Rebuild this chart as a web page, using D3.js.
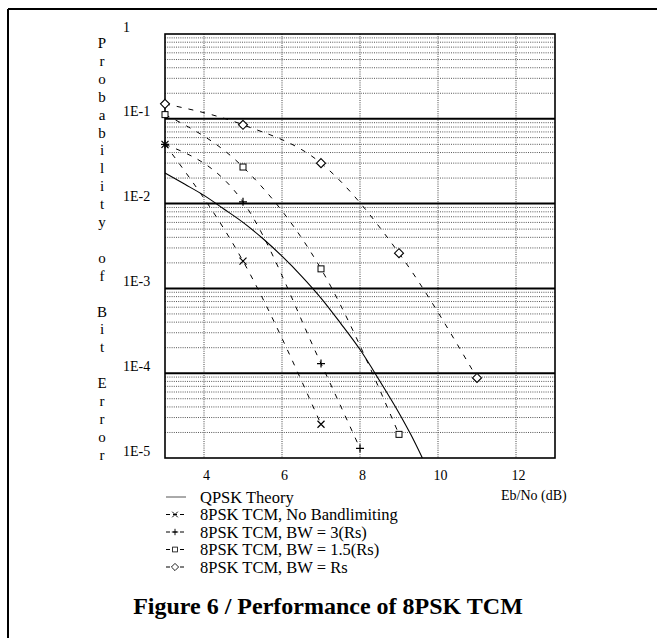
<!DOCTYPE html>
<html><head><meta charset="utf-8">
<script src="https://cdn.jsdelivr.net/npm/d3@7"></script>
<style>body{margin:0;background:#fff}svg{display:block}text{font-family:"Liberation Serif","Times New Roman",serif;fill:#000}</style>
</head><body>
<div id="chart"></div>
<script>
// ---- data ----
const xTicks = [4, 6, 8, 10, 12];
const yTickValues = [1, 1e-1, 1e-2, 1e-3, 1e-4, 1e-5];
const yTickLabels = ["1", "1E-1", "1E-2", "1E-3", "1E-4", "1E-5"];
const qpskX = [3, 3.5, 4, 4.5, 5, 5.5, 6, 6.5, 7, 7.5, 8, 8.5, 9, 9.3, 9.6];
const qpskY = [2.3e-2, 1.7e-2, 1.25e-2, 8.7e-3, 6.0e-3, 3.9e-3, 2.4e-3, 1.4e-3, 7.7e-4, 3.9e-4, 1.9e-4, 8.2e-5, 3.4e-5, 1.9e-5, 1.0e-5];
const noBandX = [3, 5, 7];
const noBandY = [5.0e-2, 2.1e-3, 2.5e-5];
const bw3X = [3, 5, 7, 8];
const bw3Y = [5.0e-2, 1.05e-2, 1.3e-4, 1.3e-5];
const bw15X = [3, 5, 7, 9];
const bw15Y = [1.12e-1, 2.7e-2, 1.7e-3, 1.9e-5];
const bwRsX = [3, 5, 7, 9, 11];
const bwRsY = [1.5e-1, 8.5e-2, 3.0e-2, 2.6e-3, 8.8e-5];
const legendLabels = ["QPSK Theory", "8PSK TCM, No Bandlimiting", "8PSK TCM, BW = 3(Rs)", "8PSK TCM, BW = 1.5(Rs)", "8PSK TCM, BW = Rs"];
const yAxisTitle = "Probability of Bit Error";
const xAxisTitle = "Eb/No (dB)";
const figTitle = "Figure 6 / Performance of 8PSK TCM";

// ---- layout ----
const W = 657, H = 638;
const L = 165, R = 555, T = 34, B = 458;
const svg = d3.select("#chart").append("svg").attr("width", W).attr("height", H);

const x = d3.scaleLinear().domain([3, 13]).range([L, R]);
const y = d3.scaleLog().domain([1, 1e-5]).range([T, B]);

// outer frame (top and left)
svg.append("line").attr("x1", 8).attr("x2", W).attr("y1", 9).attr("y2", 9).attr("stroke", "#000").attr("stroke-width", 2);
svg.append("line").attr("x1", 8).attr("x2", 8).attr("y1", 9).attr("y2", H).attr("stroke", "#000").attr("stroke-width", 2);

// minor horizontal grid
const minor = [];
for (let e = 0; e > -5; e--) for (let k = 2; k <= 9; k++) minor.push(k * Math.pow(10, e - 1));
const g = svg.append("g");
g.selectAll("line.minor").data(minor).join("line")
  .attr("x1", L).attr("x2", R).attr("y1", d => y(d)).attr("y2", d => y(d))
  .attr("stroke", "#555").attr("stroke-width", 1).attr("stroke-dasharray", "1,1.2");
// vertical grid
g.selectAll("line.vg").data(xTicks).join("line")
  .attr("x1", d => x(d)).attr("x2", d => x(d)).attr("y1", T).attr("y2", B)
  .attr("stroke", "#444").attr("stroke-width", 1).attr("stroke-dasharray", "1,1.2");
// major decades
g.selectAll("line.major").data(yTickValues.slice(1, -1)).join("line")
  .attr("x1", L).attr("x2", R).attr("y1", d => y(d)).attr("y2", d => y(d))
  .attr("stroke", "#000").attr("stroke-width", 2);
// plot border
svg.append("rect").attr("x", L).attr("y", T).attr("width", R - L).attr("height", B - T)
  .attr("fill", "none").attr("stroke", "#000").attr("stroke-width", 1.6);

// axes (labels via d3 axes)
const yAxis = d3.axisLeft(y).tickValues(yTickValues).tickFormat((d, i) => yTickLabels[i]).tickSize(0);
const ya = svg.append("g").attr("transform", `translate(${L},0)`).call(yAxis);
ya.select(".domain").remove();
ya.selectAll("text").attr("x", 123 - L).attr("text-anchor", "start").attr("dy", null).attr("y", -3)
  .style("font-size", "14px").style("font-family", "Liberation Serif, serif");

const xAxis = d3.axisBottom(x).tickValues(xTicks).tickFormat(d3.format("d")).tickSize(0);
const xa = svg.append("g").attr("transform", `translate(2,${B})`).call(xAxis);
xa.select(".domain").remove();
xa.selectAll("text").attr("y", 22).attr("dy", null).style("font-size", "14px").style("font-family", "Liberation Serif, serif");

svg.append("text").attr("x", 501).attr("y", 500).style("font-size", "14px").text(xAxisTitle);

// vertical stacked y title
const chars = yAxisTitle.split("");
svg.append("g").selectAll("text").data(chars).join("text")
  .attr("x", 102).attr("y", (d, i) => 48 + i * 17.9).attr("text-anchor", "middle")
  .style("font-size", "15px").text(d => d === " " ? "" : d);

// series
const line = d3.line().x(d => x(d[0])).y(d => y(d[1])).curve(d3.curveMonotoneX);
const zip = (a, b) => a.map((v, i) => [v, b[i]]);
const qpsk = zip(qpskX, qpskY);
svg.append("path").datum(qpsk).attr("d", line).attr("fill", "none").attr("stroke", "#000").attr("stroke-width", 1.1);

const series = [
  {d: zip(noBandX, noBandY), m: "x"},
  {d: zip(bw3X, bw3Y), m: "plus"},
  {d: zip(bw15X, bw15Y), m: "square"},
  {d: zip(bwRsX, bwRsY), m: "diamond"}
];
function marker(sel, type) {
  if (type === "x") sel.append("path").attr("d", "M-3.5,-3.5L3.5,3.5M-3.5,3.5L3.5,-3.5").attr("stroke", "#000").attr("stroke-width", 1.2).attr("fill", "none");
  if (type === "plus") sel.append("path").attr("d", "M-4,0L4,0M0,-4L0,4").attr("stroke", "#000").attr("stroke-width", 1.2).attr("fill", "none");
  if (type === "square") sel.append("rect").attr("x", -3).attr("y", -3).attr("width", 6).attr("height", 6).attr("stroke", "#000").attr("stroke-width", 1).attr("fill", "#fff");
  if (type === "diamond") sel.append("path").attr("d", "M0,-4.5L4.5,0L0,4.5L-4.5,0Z").attr("stroke", "#000").attr("stroke-width", 1.1).attr("fill", "#fff");
}
series.forEach(s => {
  svg.append("path").datum(s.d).attr("d", line).attr("fill", "none").attr("stroke", "#000")
    .attr("stroke-width", 1).attr("stroke-dasharray", "5,7");
});
series.forEach(s => {
  svg.append("g").selectAll("g").data(s.d).join("g")
    .attr("transform", d => `translate(${x(d[0])},${y(d[1])})`)
    .each(function () { marker(d3.select(this), s.m); });
});

// legend
const types = ["line", "x", "plus", "square", "diamond"];
const lg = svg.append("g");
legendLabels.forEach((t, i) => {
  const cy = 497 + i * 17.5;
  const row = lg.append("g").attr("transform", `translate(0,${cy})`);
  if (i === 0) row.append("line").attr("x1", 166).attr("x2", 186).attr("stroke", "#555").attr("stroke-width", 1);
  else {
    row.append("line").attr("x1", 166).attr("x2", 187).attr("stroke", "#000").attr("stroke-width", 1).attr("stroke-dasharray", "4,3");
    const m = row.append("g").attr("transform", "translate(175,0) scale(0.8)");
    marker(m, types[i]);
  }
  row.append("text").attr("x", 200).attr("y", 5.5).style("font-size", "16.5px").text(t);
});

svg.append("text").attr("x", 328).attr("y", 614).attr("text-anchor", "middle")
  .style("font-size", "24px").style("font-weight", "bold").text(figTitle);
</script>
</body></html>
